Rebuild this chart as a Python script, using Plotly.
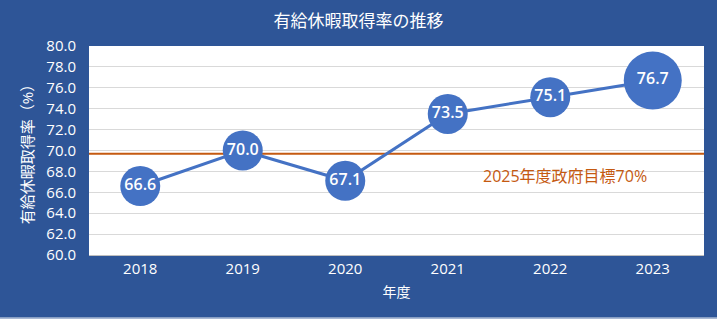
import plotly.graph_objects as go

years = ["2018", "2019", "2020", "2021", "2022", "2023"]
rates = [66.6, 70.0, 67.1, 73.5, 75.1, 76.7]
marker_sizes = [40, 40, 40, 40, 40, 58]
target_value = 69.7
target_label = "2025年度政府目標70%"
y_ticks = [60 + 2 * i for i in range(11)]

BG = "#2E5597"
FONT = "Open Sans, Noto Sans CJK JP"

fig = go.Figure()
fig.add_trace(go.Scatter(
    x=years, y=rates, mode="lines+markers+text",
    line=dict(color="#4472C4", width=3),
    marker=dict(size=marker_sizes, color="#4472C4", opacity=1, line=dict(width=0)),
    text=[f"{v:.1f}" for v in rates], textposition="middle center",
    textfont=dict(color="white", size=16, family=FONT, weight=600),
    cliponaxis=False, showlegend=False,
))

fig.add_shape(type="line", xref="paper", yref="y", x0=0, x1=1,
              y0=target_value, y1=target_value,
              line=dict(color="#C55A11", width=2), layer="below")
fig.add_annotation(x=4.14, y=67.6, xref="x", yref="y", text=target_label,
                   showarrow=False, font=dict(color="#C55A11", size=16, family=FONT))
fig.add_shape(type="rect", xref="paper", yref="paper", x0=-0.2, x1=1.1,
              y0=-0.298, y1=-0.31, line=dict(width=0), fillcolor="#A9B8D3")

fig.update_layout(
    width=717, height=319,
    margin=dict(l=89, r=13, t=46, b=64),
    paper_bgcolor=BG, plot_bgcolor="white",
    title=dict(text="有給休暇取得率の推移", x=0.5, xanchor="center", y=0.935,
               yanchor="middle", font=dict(color="white", size=17, family=FONT)),
    font=dict(family=FONT, color="white"),
    xaxis=dict(title=dict(text="年度", font=dict(size=14, color="white"), standoff=10),
               range=[-0.5, 5.5], autorange=False,
               tickfont=dict(size=15, color="white"), showgrid=False,
               showline=True, linecolor="#BFBFBF", ticks=""),
    yaxis=dict(title=dict(text="有給休暇取得率（%）", font=dict(size=15, color="white"), standoff=9),
               range=[60, 80], tickvals=y_ticks, ticktext=[f"{v:.1f}" for v in y_ticks],
               tickfont=dict(size=15, color="white"), showgrid=True, gridcolor="#D9D9D9",
               gridwidth=1, zeroline=False, ticks="", ticklabelstandoff=12),
)

fig.write_html("out.html")
